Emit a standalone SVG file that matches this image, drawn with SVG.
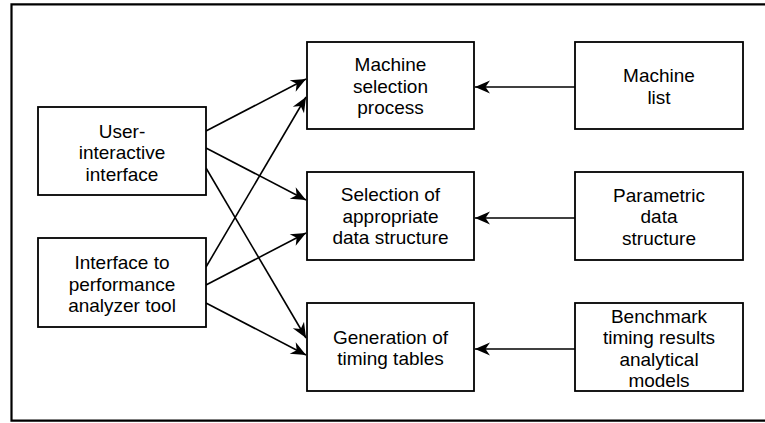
<svg xmlns="http://www.w3.org/2000/svg" width="765" height="423" viewBox="0 0 765 423">
<defs>
<style>
.box{fill:#fff;stroke:#000;stroke-width:1.8}
.frame{fill:none;stroke:#000;stroke-width:2.2}
.t{font-family:"Liberation Sans",Arial,Helvetica,sans-serif;font-size:19px;fill:#000;text-anchor:middle}
.c{stroke:#000;stroke-width:1.6;fill:none;marker-end:url(#ah)}
</style>
<marker id="ah" markerUnits="userSpaceOnUse" markerWidth="18" markerHeight="16" viewBox="-16 -8 18 16" refX="0" refY="0" orient="auto">
<path d="M0,0 L-15,-6.5 L-10.5,0 L-15,6.5 Z" fill="#000"/>
</marker>
</defs>
<rect x="0" y="0" width="765" height="423" fill="#fff"/>
<path class="frame" d="M768,4.3 H11.5 V420.7 H768"/>
<g id="connectors">
<line class="c" x1="206" y1="131" x2="306" y2="79"/>
<line class="c" x1="206" y1="148" x2="306" y2="200"/>
<line class="c" x1="206" y1="168" x2="306" y2="338"/>
<line class="c" x1="206" y1="267" x2="306" y2="97"/>
<line class="c" x1="206" y1="285" x2="306" y2="233"/>
<line class="c" x1="206" y1="303" x2="306" y2="355"/>
<line class="c" x1="575" y1="87" x2="475" y2="87"/>
<line class="c" x1="575" y1="218" x2="475" y2="218"/>
<line class="c" x1="575" y1="349" x2="475" y2="349"/>
</g>
<g id="user-interactive">
<rect class="box" x="38" y="107" width="168" height="88"/>
<text class="t" x="122" y="137.5">User-</text>
<text class="t" x="122" y="159">interactive</text>
<text class="t" x="122" y="180.5">interface</text>
</g>
<g id="performance-interface">
<rect class="box" x="38" y="238" width="168" height="89"/>
<text class="t" x="122" y="269">Interface to</text>
<text class="t" x="122" y="290.5">performance</text>
<text class="t" x="122" y="312">analyzer tool</text>
</g>
<g id="machine-selection">
<rect class="box" x="307" y="42" width="167" height="87"/>
<text class="t" x="390.5" y="71">Machine</text>
<text class="t" x="390.5" y="92.5">selection</text>
<text class="t" x="390.5" y="114">process</text>
</g>
<g id="data-structure-selection">
<rect class="box" x="307" y="172" width="167" height="88"/>
<text class="t" x="390.5" y="201">Selection of</text>
<text class="t" x="390.5" y="222.5">appropriate</text>
<text class="t" x="390.5" y="244">data structure</text>
</g>
<g id="timing-tables">
<rect class="box" x="307" y="303" width="167" height="88"/>
<text class="t" x="390.5" y="343.5">Generation of</text>
<text class="t" x="390.5" y="365">timing tables</text>
</g>
<g id="machine-list">
<rect class="box" x="575" y="42" width="168" height="87"/>
<text class="t" x="659" y="82">Machine</text>
<text class="t" x="659" y="103.5">list</text>
</g>
<g id="parametric-data">
<rect class="box" x="575" y="172" width="168" height="88"/>
<text class="t" x="659" y="201.5">Parametric</text>
<text class="t" x="659" y="223">data</text>
<text class="t" x="659" y="244.5">structure</text>
</g>
<g id="benchmark">
<rect class="box" x="575" y="303" width="168" height="88"/>
<text class="t" x="659" y="322.5">Benchmark</text>
<text class="t" x="659" y="344">timing results</text>
<text class="t" x="659" y="365.5">analytical</text>
<text class="t" x="659" y="387">models</text>
</g>
</svg>
